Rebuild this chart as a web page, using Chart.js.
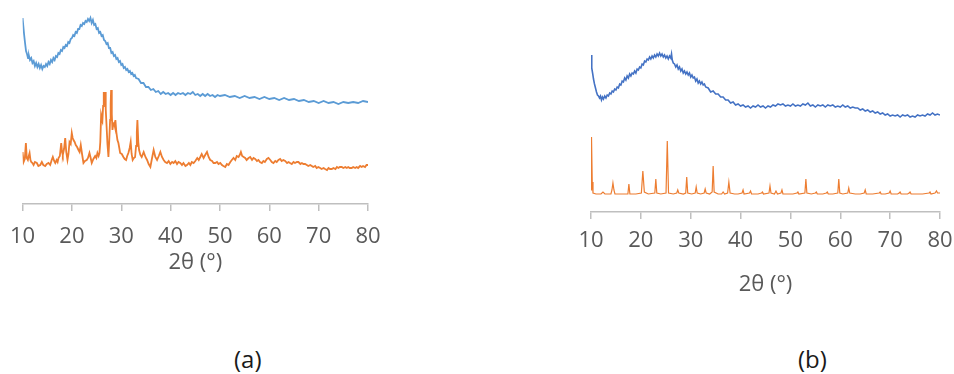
<!DOCTYPE html>
<html>
<head>
<meta charset="utf-8">
<script src="https://cdn.jsdelivr.net/npm/chart.js@4.4.1/dist/chart.umd.min.js"></script>
<style>
  body { margin: 0; background: #fff; width: 954px; height: 374px; position: relative; overflow: hidden; }
  canvas { position: absolute; top: 0; }
  .rotulo { position: absolute; top: 342px; font: 24px 'Open Sans', sans-serif; color: #1a1a1a; }
</style>
</head>
<body>
<canvas id="graficoA" width="403" height="290" style="left:-3px"></canvas>
<canvas id="graficoB" width="402" height="298" style="left:560px"></canvas>
<div class="rotulo" style="left:234px">(a)</div>
<div class="rotulo" style="left:798px">(b)</div>
<script>
// eixo 2θ (°) e rótulos
const ticks2Theta = [10, 20, 30, 40, 50, 60, 70, 80];
const tituloEixo = '2θ (°)';

// (a) curva azul - halo amorfo  [2θ, intensidade]
const aAzul = [[10.0,186],[10.15,178],[10.3,170],[10.5,161],[10.7,153],[10.9,150],[11.1,146],[11.3,148],[11.5,144],[11.75,146],[12.0,141],[12.25,143],[12.5,138],[12.75,141],[13.0,137],[13.25,140],[13.5,136],[13.75,139],[14.0,135],[14.25,138],[14.5,137],[14.75,140],[15.0,138],[15.25,142],[15.5,140],[15.75,144],[16.0,142],[16.25,146],[16.5,144],[16.75,148],[17.0,147],[17.25,151],[17.5,150],[17.75,154],[18.0,153],[18.25,157],[18.5,156],[18.75,159],[19.0,158],[19.25,162],[19.5,161],[19.75,165],[20.0,166],[20.25,169],[20.5,168],[20.75,172],[21.0,171],[21.25,175],[21.5,175],[21.75,179],[22.0,178],[22.25,181],[22.5,180],[22.75,183],[23.0,182],[23.25,185],[23.5,183],[23.75,186],[24.0,181],[24.25,184],[24.5,179],[24.75,180],[25.0,175],[25.25,176],[25.5,171],[25.75,172],[26.0,168],[26.25,169],[26.5,164],[26.75,163],[27.0,160],[27.25,161],[27.5,156],[27.75,156],[28.0,151],[28.25,152],[28.5,148],[28.75,149],[29.0,145],[29.25,146],[29.5,142],[29.75,143],[30.0,139],[30.25,140],[30.5,136],[30.75,137],[31.0,134],[31.25,135],[31.5,132],[31.75,133],[32.0,130],[32.25,131],[32.5,128],[32.75,129],[33.0,126],[33.5,125],[34.0,121],[34.5,121],[35.0,117],[35.5,117],[36.0,114],[36.5,115],[37.0,112],[37.5,113],[38.0,110],[38.5,112],[39.0,110],[39.5,111],[40.0,109],[40.5,111],[41.0,109],[41.5,111],[42.0,110],[42.5,111],[43.0,109],[43.5,111],[44.0,110],[44.5,112],[45.0,109],[45.5,110],[46.0,108],[46.5,110],[47.0,108],[47.5,110],[48.0,108],[48.5,109],[49.0,107],[49.5,109],[50.0,108],[51,109],[52,107],[53,108],[54,106],[55,108],[56,106],[57,107],[58,105],[59,107],[60,105],[61,106],[62,104],[63,106],[64,104],[65,105],[66,103],[67,104],[68,102],[69,103],[70,101],[71,103],[72,101],[73,102],[74,100],[75,102],[76,101],[77,102],[78,101],[79,103],[80,102]];

// (a) curva laranja
const aLaranja = [[10.0,52],[10.2,42],[10.45,45],[10.67,61],[10.85,46],[11.07,44],[11.25,48],[11.42,51],[11.6,44],[11.76,42],[12.0,41],[12.23,39],[12.5,42],[12.89,41],[13.2,38],[13.58,39],[13.9,42],[14.2,39],[14.59,38],[14.9,40],[15.26,41],[15.6,39],[15.9,44],[16.13,47],[16.4,43],[16.62,41],[16.9,44],[17.1,42],[17.28,46],[17.55,48],[17.83,61],[18.0,52],[18.15,49],[18.4,55],[18.64,66],[18.85,52],[19.1,44],[19.3,50],[19.51,62],[19.75,60],[19.97,71],[20.15,66],[20.32,64],[20.55,62],[20.78,59],[21.05,57],[21.33,54],[21.55,52],[21.79,59],[22.05,50],[22.34,41],[22.65,43],[23.0,44],[23.25,46],[23.55,51],[23.8,46],[24.02,41],[24.35,45],[24.71,48],[24.95,46],[25.17,51],[25.4,48],[25.58,51],[25.75,62],[25.92,89],[26.05,86],[26.18,84],[26.32,98],[26.45,112],[26.6,100],[26.73,112],[26.85,95],[26.99,81],[27.2,60],[27.4,47],[27.55,62],[27.74,84],[27.85,100],[27.94,114],[28.08,90],[28.21,74],[28.38,80],[28.55,81],[28.68,78],[28.81,84],[29.0,72],[29.22,64],[29.42,61],[29.6,56],[29.77,51],[30.1,50],[30.43,47],[30.7,45],[30.98,44],[31.2,48],[31.44,51],[31.7,56],[31.91,62],[32.1,50],[32.31,44],[32.55,46],[32.8,47],[33.0,58],[33.15,72],[33.27,84],[33.45,62],[33.61,54],[33.87,49],[34.14,47],[34.54,52],[34.9,47],[35.23,44],[35.55,40],[35.9,37],[36.2,45],[36.56,54],[36.9,47],[37.25,44],[37.6,48],[37.92,52],[38.25,47],[38.59,44],[38.9,42],[39.27,41],[39.6,43],[39.95,40],[40.3,42],[40.61,41],[40.95,43],[41.3,40],[41.6,42],[41.96,41],[42.3,39],[42.6,41],[43.0,38],[43.32,39],[43.7,41],[44.0,39],[44.3,42],[44.66,41],[45.0,43],[45.4,46],[45.7,44],[46.01,47],[46.3,50],[46.68,46],[47.0,49],[47.37,52],[47.7,47],[48.03,44],[48.4,43],[48.7,41],[49.04,41],[49.4,42],[49.7,40],[50.06,41],[50.4,39],[50.7,38],[51.07,37],[51.4,40],[51.74,39],[52.1,42],[52.4,44],[52.75,46],[53.1,44],[53.4,48],[53.76,47],[54.0,49],[54.24,52],[54.5,48],[54.8,47],[55.11,46],[55.4,44],[55.8,46],[56.13,47],[56.5,44],[56.8,46],[57.14,45],[57.5,43],[57.8,44],[58.1,42],[58.49,41],[58.8,43],[59.1,42],[59.5,45],[59.83,46],[60.2,44],[60.5,42],[60.84,41],[61.2,43],[61.5,42],[61.85,44],[62.2,45],[62.5,43],[62.85,44],[63.21,43],[63.6,41],[63.9,42],[64.2,41],[64.56,40],[64.9,42],[65.2,41],[65.6,42],[65.9,42],[66.3,40],[66.6,41],[66.9,40],[67.25,40],[67.6,39],[67.9,38],[68.3,39],[68.61,38],[68.9,37],[69.3,38],[69.6,36],[69.94,37],[70.3,36],[70.6,35],[71.0,36],[71.3,35],[71.7,34],[72.0,36],[72.3,35],[72.66,35],[73.0,36],[73.4,35],[73.7,37],[74.0,36],[74.3,37],[74.68,37],[75.0,36],[75.4,37],[75.7,36],[76.0,37],[76.3,36],[76.7,36],[77.0,37],[77.4,36],[77.7,37],[78.0,36],[78.4,38],[78.72,37],[79.0,38],[79.4,37],[79.7,39],[80.0,39]];

// (b) curva azul
const bAzul = [[10.0,157],[10.1,150],[10.2,144],[10.35,138],[10.5,133],[10.7,128],[10.9,124],[11.1,120],[11.3,117],[11.5,116],[11.7,114],[11.9,116],[12.1,112],[12.3,115],[12.5,113],[12.75,116],[13.0,114],[13.25,117],[13.5,116],[13.75,119],[14.0,118],[14.25,121],[14.5,120],[14.75,123],[15.0,122],[15.25,125],[15.5,124],[15.75,128],[16.0,127],[16.25,131],[16.5,130],[16.75,134],[17.0,132],[17.25,136],[17.5,134],[17.75,138],[18.0,136],[18.25,139],[18.5,138],[18.75,141],[19.0,139],[19.25,143],[19.5,142],[19.75,145],[20.0,144],[20.25,148],[20.5,147],[20.75,151],[21.0,150],[21.25,153],[21.5,152],[21.75,155],[22.0,153],[22.25,156],[22.5,154],[22.75,157],[23.0,155],[23.25,158],[23.5,156],[23.75,159],[24.0,156],[24.25,158],[24.5,155],[24.75,157],[25.0,154],[25.25,156],[25.5,153],[25.75,156],[26.0,154],[26.15,158],[26.3,152],[26.5,149],[26.75,148],[27.0,145],[27.25,147],[27.5,143],[27.75,145],[28.0,141],[28.25,143],[28.5,139],[28.75,141],[29.0,138],[29.25,140],[29.5,137],[29.75,139],[30.0,135],[30.25,137],[30.5,134],[30.75,135],[31.0,131],[31.25,133],[31.5,129],[31.75,131],[32.0,128],[32.25,130],[32.5,127],[32.75,128],[33.0,125],[33.5,124],[34.0,120],[34.5,121],[35.0,118],[35.5,118],[36.0,115],[36.5,115],[37.0,112],[37.5,112],[38.0,109],[38.5,110],[39.0,107],[39.5,108],[40.0,106],[40.5,107],[41.0,105],[41.5,106],[42.0,104],[42.5,106],[43.0,105],[43.5,107],[44.0,105],[44.5,106],[45.0,104],[45.5,106],[46.0,105],[46.5,107],[47.0,106],[47.5,108],[48.0,107],[48.5,108],[49.0,106],[49.5,107],[50.0,106],[50.5,108],[51.0,106],[51.5,107],[52.0,106],[52.5,108],[53.0,107],[53.5,109],[54.0,106],[54.5,107],[55.0,105],[55.5,107],[56.0,106],[56.5,107],[57.0,105],[57.5,107],[58.0,106],[58.5,107],[59.0,105],[59.5,106],[60.0,105],[60.5,107],[61.0,105],[61.5,106],[62.0,104],[62.5,105],[63.0,104],[63.5,104],[64.0,102],[64.5,103],[65.0,101],[65.5,102],[66.0,100],[66.5,101],[67.0,99],[67.5,100],[68.0,98],[68.5,99],[69.0,97],[69.5,98],[70.0,96],[70.5,97],[71.0,96],[71.5,97],[72.0,95],[72.5,97],[73.0,96],[73.5,97],[74.0,95],[74.5,96],[75.0,95],[75.5,97],[76.0,96],[76.5,97],[77.0,96],[77.5,98],[78.0,97],[78.5,99],[79.0,97],[79.5,98],[80.0,97]];

// (b) curva laranja - picos cristalinos
const bLaranja = [[10.0,22],[10.1,75],[10.25,30],[10.4,19],[11,18],[12.0,18],[12.4,20],[12.8,18],[14.0,18],[14.2,22],[14.4,29],[14.6,22],[14.8,18],[16,18],[17.4,18],[17.6,28],[17.8,18],[19.0,18],[20.1,19],[20.4,41],[20.7,20],[21.5,18],[22.8,19],[23.0,33],[23.2,19],[24.0,18],[25.05,19],[25.3,71],[25.55,19],[26.5,18],[27.2,19],[27.4,22],[27.6,19],[28.5,18],[29.0,19],[29.2,35],[29.4,19],[30.2,18],[30.9,19],[31.1,25],[31.3,19],[32.0,18],[32.7,19],[32.9,23],[33.1,19],[33.8,18],[34.3,20],[34.5,46],[34.7,20],[35.5,18],[36.2,18],[36.5,20],[36.8,18],[37.4,19],[37.65,30],[37.9,19],[38.8,18],[39.5,18],[40.3,19],[40.5,22],[40.7,18],[41.8,19],[42.0,21],[42.2,18],[43.5,18],[44.2,19],[44.4,20],[44.6,18],[45.7,19],[45.9,26],[46.1,19],[46.8,18],[47.1,21],[47.4,18],[48.1,19],[48.3,22],[48.5,18],[49.5,18],[50.5,18],[51.3,19],[51.5,20],[51.7,18],[52.9,19],[53.1,33],[53.3,19],[54.2,18],[55.0,19],[55.2,20],[55.4,18],[56.5,18],[57.2,19],[57.4,20],[57.6,18],[58.5,18],[59.5,19],[59.7,33],[59.9,19],[60.5,18],[61.5,19],[61.7,24],[61.9,19],[63.0,18],[64.0,18],[64.8,19],[65.0,22],[65.2,18],[66.5,18],[67.8,19],[68.0,20],[68.2,18],[69.0,18],[69.8,19],[70.0,21],[70.2,18],[71.5,18],[71.8,19],[72.0,20],[72.2,18],[73.5,18],[73.8,19],[74.0,20],[74.2,18],[75.5,18],[76.5,18],[77.8,19],[78.0,20],[78.2,18],[79.0,19],[79.3,21],[79.5,19],[80.0,19]];

const pontos = arr => arr.map(p => ({ x: p[0], y: p[1] }));

function serie(dados, cor, largura) {
    return {
        data: pontos(dados),
        borderColor: cor,
        borderWidth: largura,
        pointRadius: 0,
        tension: 0,
        fill: false
    };
}

function opcoes(yMax, pad, alturaEixo, padTicks, padTitulo) {
    return {
        responsive: false,
        animation: false,
        events: [],
        layout: { padding: pad },
        plugins: {
            legend: { display: false },
            tooltip: { enabled: false }
        },
        scales: {
            x: {
                type: 'linear',
                min: 10,
                max: 80,
                afterBuildTicks: s => { s.ticks = ticks2Theta.map(v => ({ value: v })); },
                afterFit: s => { s.height = alturaEixo; },
                grid: {
                    display: true,
                    drawOnChartArea: false, // só as marcas abaixo do eixo
                    drawTicks: true,
                    tickLength: 7,
                    color: '#bfbfbf',
                    lineWidth: 1.5
                },
                border: { display: true, color: '#bfbfbf', width: 1.5 },
                ticks: {
                    color: '#595959',
                    padding: padTicks,
                    maxRotation: 0,
                    font: { family: 'Open Sans', size: 22 }
                },
                title: {
                    display: true,
                    text: tituloEixo,
                    color: '#595959',
                    padding: { top: 0, bottom: padTitulo },
                    font: { family: 'Open Sans', size: 22 }
                }
            },
            y: {
                display: false,
                min: 0,
                max: yMax
            }
        }
    };
}

new Chart(document.getElementById('graficoA').getContext('2d'), {
    type: 'line',
    data: {
        datasets: [
            serie(aAzul, '#5b9bd5', 1.8),
            serie(aLaranja, '#ed7d31', 1.8)
        ]
    },
    options: opcoes(194, { left: 22, right: 32, top: 10, bottom: 0 }, 86, 13, 14)
});

new Chart(document.getElementById('graficoB').getContext('2d'), {
    type: 'line',
    data: {
        datasets: [
            serie(bAzul, '#4472c4', 1.6),
            serie(bLaranja, '#ed7d31', 1.2)
        ]
    },
    options: opcoes(167, { left: 31, right: 22, top: 45, bottom: 0 }, 86, 9, 0)
});
</script>
</body>
</html>
